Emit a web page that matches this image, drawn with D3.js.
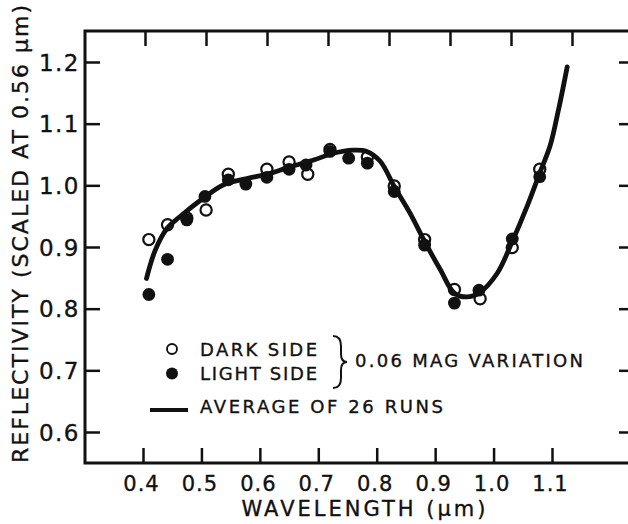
<!DOCTYPE html>
<html><head><meta charset="utf-8">
<script src="https://cdn.jsdelivr.net/npm/d3@7"></script>
<style>
body{margin:0;background:#fff;}
svg{display:block;}
text{font-family:"DejaVu Sans",sans-serif;fill:#111;stroke:#111;stroke-width:0.35px;}
</style></head>
<body>
<svg id="c" width="628" height="524"></svg>
<script>
// ---- data ----
const xTicks = [0.4,0.5,0.6,0.7,0.8,0.9,1.0,1.1];
const xTickLabels = ["0.4","0.5","0.6","0.7","0.8","0.9","1.0","1.1"];
const yTicks = [0.6,0.7,0.8,0.9,1.0,1.1,1.2];
const yTickLabels = ["0.6","0.7","0.8","0.9","1.0","1.1","1.2"];

const darkX = [0.410,0.442,0.475,0.508,0.546,0.612,0.650,0.682,0.720,0.784,0.830,0.882,0.933,0.977,1.032,1.079];
const darkY = [0.912,0.936,0.947,0.960,1.018,1.026,1.038,1.018,1.058,1.046,0.999,0.912,0.831,0.816,0.899,1.026];

const lightX = [0.410,0.442,0.475,0.506,0.546,0.576,0.612,0.650,0.679,0.720,0.752,0.784,0.830,0.882,0.933,0.975,1.032,1.079];
const lightY = [0.823,0.880,0.944,0.982,1.009,1.002,1.013,1.026,1.033,1.055,1.044,1.036,0.990,0.903,0.809,0.830,0.913,1.014];

const avgX = [0.406,0.421,0.441,0.463,0.503,0.538,0.578,0.612,0.652,0.692,0.726,0.760,0.783,0.806,0.830,0.857,0.882,0.909,0.933,0.954,0.976,1.006,1.032,1.057,1.079,1.097,1.111,1.126];
const avgY = [0.849,0.895,0.930,0.949,0.979,1.001,1.011,1.018,1.030,1.041,1.052,1.057,1.055,1.039,0.998,0.955,0.909,0.863,0.825,0.819,0.826,0.857,0.909,0.965,1.020,1.065,1.122,1.192];

const legendDark = "DARK SIDE";
const legendLight = "LIGHT SIDE";
const legendNote = "0.06 MAG VARIATION";
const legendAvg = "AVERAGE OF 26 RUNS";
const xTitle = "WAVELENGTH (\u03bcm)";
const yTitle = "REFLECTIVITY (SCALED AT 0.56 \u03bcm)";

// ---- layout ----
const L = 85, T = 31, B = 463, R = 634;
const svg = d3.select("#c");
const x = d3.scaleLinear().domain([0.4,1.1]).range([143,552]);
const xTop = d3.scaleLinear().domain([0.4,1.1]).range([145,572]);
const y = d3.scaleLinear().domain([0.6,1.2]).range([432,62]);

// frame
svg.append("path")
  .attr("d",`M${R},${T}H${L}V${B}H${R}`)
  .attr("fill","none").attr("stroke","#111").attr("stroke-width",3);

function styleAxis(g){
  g.select(".domain").remove();
  g.selectAll(".tick line").attr("stroke","#111").attr("stroke-width",2.5);
}

// bottom axis
svg.append("g").attr("transform",`translate(0,${B})`)
  .call(d3.axisBottom(x).tickValues(xTicks).tickSize(-15).tickPadding(0)
    .tickFormat((d,i)=>xTickLabels[i]))
  .call(styleAxis)
  .call(g=>g.selectAll(".tick text").attr("dy",0).attr("y",28)
    .style("font-size","21px").attr("dx",-2).attr("letter-spacing","1px"));

// top axis
svg.append("g").attr("transform",`translate(0,${T})`)
  .call(d3.axisTop(xTop).tickValues(xTicks).tickSize(-15).tickFormat(""))
  .call(styleAxis);

// left axis
svg.append("g").attr("transform",`translate(${L},0)`)
  .call(d3.axisLeft(y).tickValues(yTicks).tickSize(-15).tickPadding(0)
    .tickFormat((d,i)=>yTickLabels[i]))
  .call(styleAxis)
  .call(g=>g.selectAll(".tick text").attr("x",-5).attr("dy","0.36em")
    .style("font-size","23px").attr("letter-spacing","1.5px"));

// right axis
svg.append("g").attr("transform",`translate(${R},0)`)
  .call(d3.axisRight(y).tickValues(yTicks).tickSize(-15).tickFormat(""))
  .call(styleAxis);

// titles
svg.append("text").attr("x",365).attr("y",516).attr("text-anchor","middle")
  .style("font-size","21px").attr("letter-spacing","3px").text(xTitle);
svg.append("text").attr("transform","translate(28,463) rotate(-90)")
  .attr("x",0).attr("y",0)
  .attr("textLength",458).attr("lengthAdjust","spacing")
  .style("font-size","22px").text(yTitle);

// points: dark (open) below, light (filled) above
const dark = darkX.map((d,i)=>({x:d,y:darkY[i]}));
const light = lightX.map((d,i)=>({x:d,y:lightY[i]}));
const avg = avgX.map((d,i)=>({x:d,y:avgY[i]}));

svg.append("g").selectAll("circle").data(dark).join("circle")
  .attr("cx",d=>x(d.x)).attr("cy",d=>y(d.y)).attr("r",5.6)
  .attr("fill","#fff").attr("stroke","#111").attr("stroke-width",2.2);
svg.append("g").selectAll("circle").data(light).join("circle")
  .attr("cx",d=>x(d.x)).attr("cy",d=>y(d.y)).attr("r",6.4)
  .attr("fill","#111");

// average curve
svg.append("path").datum(avg)
  .attr("d",d3.line().x(d=>x(d.x)).y(d=>y(d.y)).curve(d3.curveCatmullRom.alpha(0.5)))
  .attr("fill","none").attr("stroke","#111").attr("stroke-width",4.8).attr("stroke-linecap","round");

// legend
const lg = svg.append("g");
lg.append("circle").attr("cx",172).attr("cy",349).attr("r",5)
  .attr("fill","#fff").attr("stroke","#111").attr("stroke-width",1.9);
lg.append("circle").attr("cx",172).attr("cy",373.5).attr("r",6).attr("fill","#111");
lg.append("text").attr("x",200).attr("y",356).attr("textLength",117).attr("lengthAdjust","spacing")
  .style("font-size","18px").text(legendDark);
lg.append("text").attr("x",200).attr("y",380).attr("textLength",117).attr("lengthAdjust","spacing")
  .style("font-size","18px").text(legendLight);
lg.append("path")
  .attr("d","M333,336 Q341,336 341,346 L341,354 Q341,362 347,362 Q341,362 341,370 L341,378 Q341,388 333,388")
  .attr("fill","none").attr("stroke","#111").attr("stroke-width",2);
lg.append("text").attr("x",355).attr("y",367).attr("textLength",228).attr("lengthAdjust","spacing")
  .style("font-size","18px").text(legendNote);
lg.append("line").attr("x1",150).attr("x2",188).attr("y1",410).attr("y2",410)
  .attr("stroke","#111").attr("stroke-width",4);
lg.append("text").attr("x",200).attr("y",413).attr("textLength",243).attr("lengthAdjust","spacing")
  .style("font-size","18px").text(legendAvg);
</script>
</body></html>
